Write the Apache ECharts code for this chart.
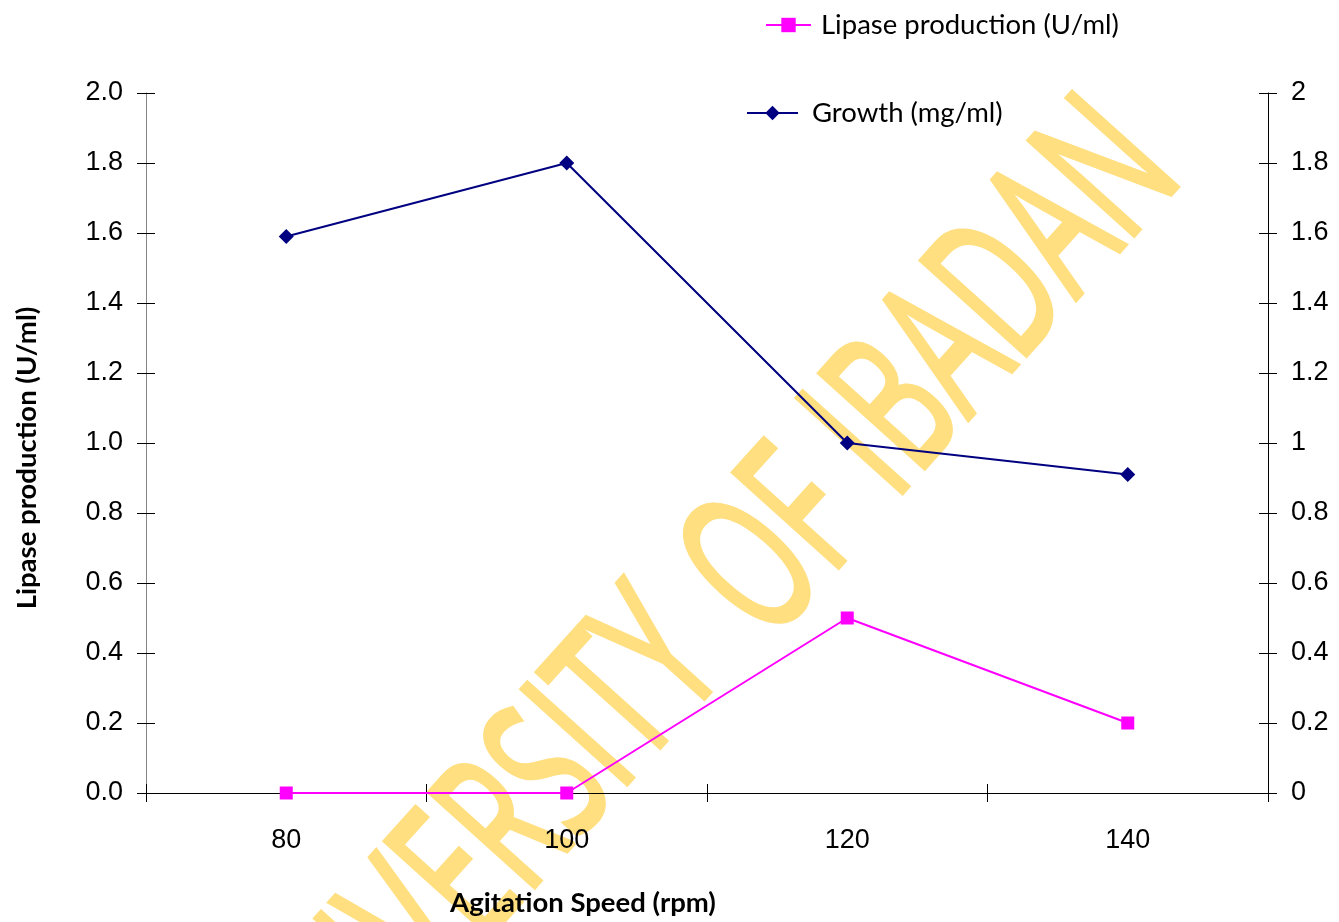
<!DOCTYPE html>
<html>
<head>
<meta charset="utf-8">
<script src="https://cdn.jsdelivr.net/npm/echarts@6/dist/echarts.min.js"></script>
<style>
html,body{margin:0;padding:0;background:#fff;}
#chart{width:1339px;height:922px;}
</style>
</head>
<body>
<div id="chart"></div>
<script>
const categories = ['80', '100', '120', '140'];
const lipase = [0, 0, 0.5, 0.2];
const growth = [1.59, 1.80, 1.00, 0.91];
const lipaseName = 'Lipase production (U/ml)';
const growthName = 'Growth (mg/ml)';
const xTitle = 'Agitation Speed (rpm)';
const yTitle = 'Lipase production (U/ml)';
const watermarkWords = ['UNIVERSITY', 'OF', 'IBADAN'];

const chart = echarts.init(document.getElementById('chart'), null, {renderer: 'canvas'});
const GRID = {left: 146, right: 71, top: 93, bottom: 129};
const tickFont = 'Liberation Sans';
const textFont = 'Lato';
const wmAngle = 48 * Math.PI / 180;
const wmPos = [[470, 874], [778, 550], [998, 302]];
const wmScale = 0.6;

function valueAxis(pos, opts) {
  return Object.assign({
    type: 'value', position: pos, min: 0, max: 2, interval: 0.2,
    splitLine: {show: false}
  }, opts);
}

const option = {
  backgroundColor: '#ffffff',
  animation: false,
  grid: GRID,
  graphic: [
    ...watermarkWords.map((w, i) => ({
      type: 'text', z: -10, zlevel: 0, silent: true,
      x: wmPos[i][0], y: wmPos[i][1], rotation: wmAngle, scaleX: wmScale, scaleY: 1,
      style: {text: w, fill: '#FFDF80', stroke: '#FFDF80', lineWidth: 5, lineJoin: 'round',
              font: 'normal 198px "Open Sans"', align: 'center', verticalAlign: 'middle'}
    })),
    {type: 'text', x: 583, y: 903, z: 10,
     style: {text: xTitle, fill: '#000', font: 'bold 27.5px Lato', align: 'center', verticalAlign: 'middle'}},
    {type: 'text', x: 27, y: 458, rotation: Math.PI / 2, z: 10,
     style: {text: yTitle, fill: '#000', font: 'bold 27.5px Lato', align: 'center', verticalAlign: 'middle'}}
  ],
  legend: [
    {data: [lipaseName], left: 765, top: 11, itemWidth: 45, itemHeight: 18, padding: 0,
     textStyle: {fontFamily: textFont, fontSize: 27.5, color: '#000', padding: [2, 0, 0, 5]}},
    {data: [growthName], left: 746, top: 99, itemWidth: 51, itemHeight: 18, padding: 0,
     textStyle: {fontFamily: textFont, fontSize: 27.5, color: '#000', padding: [2, 0, 0, 9]}}
  ],
  xAxis: [
    {type: 'category', data: categories, position: 'bottom', boundaryGap: true,
     axisLine: {show: true, lineStyle: {color: '#000', width: 1}},
     axisTick: {show: true, inside: false, length: 9, lineStyle: {color: '#000'}},
     axisLabel: {margin: 34, color: '#000', fontFamily: tickFont, fontSize: 27},
     splitLine: {show: false}},
    {type: 'category', data: categories, position: 'bottom', boundaryGap: true,
     axisLine: {show: false},
     axisTick: {show: true, inside: true, length: 9, lineStyle: {color: '#000'}},
     axisLabel: {show: false}, splitLine: {show: false}}
  ],
  yAxis: [
    valueAxis('left', {
      axisLine: {show: true, lineStyle: {color: '#868686', width: 1}},
      axisTick: {show: true, inside: false, length: 9, lineStyle: {color: '#000'}},
      axisLabel: {margin: 23, color: '#000', fontFamily: tickFont, fontSize: 27, padding: [6, 0, 0, 0],
                  formatter: v => v.toFixed(1)}
    }),
    valueAxis('right', {
      axisLine: {show: true, lineStyle: {color: '#000', width: 1}},
      axisTick: {show: true, inside: false, length: 9, lineStyle: {color: '#000'}},
      axisLabel: {margin: 23, color: '#000', fontFamily: tickFont, fontSize: 27, padding: [6, 0, 0, 0]}
    }),
    valueAxis('left', {
      axisLine: {show: false},
      axisTick: {show: true, inside: true, length: 9, lineStyle: {color: '#000'}},
      axisLabel: {show: false}
    }),
    valueAxis('right', {
      axisLine: {show: false},
      axisTick: {show: true, inside: true, length: 9, lineStyle: {color: '#000'}},
      axisLabel: {show: false}
    })
  ],
  series: [
    {name: lipaseName, type: 'line', xAxisIndex: 0, yAxisIndex: 0, data: lipase,
     symbol: 'rect', symbolSize: 13, color: '#FF00FF',
     itemStyle: {color: '#FF00FF'}, lineStyle: {color: '#FF00FF', width: 2}},
    {name: growthName, type: 'line', xAxisIndex: 0, yAxisIndex: 1, data: growth,
     symbol: 'diamond', symbolSize: 15, color: '#000080',
     itemStyle: {color: '#000080'}, lineStyle: {color: '#000080', width: 2}}
  ]
};
chart.setOption(option);
</script>
</body>
</html>
